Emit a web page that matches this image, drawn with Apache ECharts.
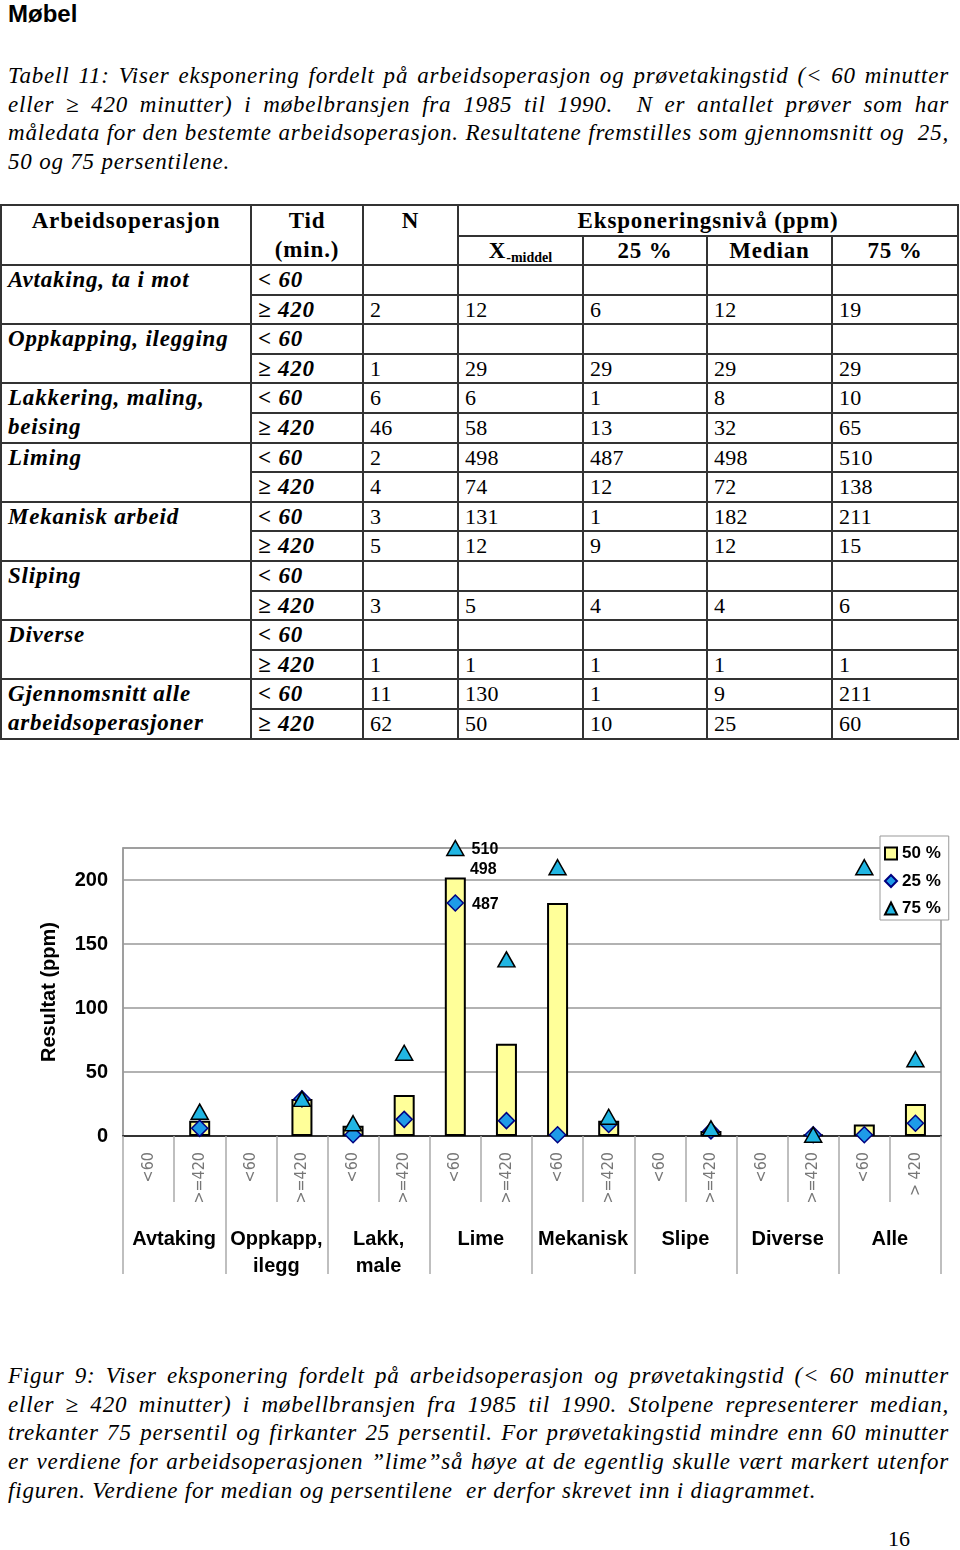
<!DOCTYPE html>
<html><head><meta charset="utf-8">
<script src="https://cdn.jsdelivr.net/npm/echarts/dist/echarts.min.js"></script>
<style>
html,body{margin:0;padding:0;background:#fff;width:960px;height:1550px;overflow:hidden;}
body{position:relative;}
.sans{font-family:'Liberation Sans',Arial,sans-serif;}
.serif{font-family:'Liberation Serif','Times New Roman',serif;}
#title{position:absolute;left:8px;top:2px;font-size:24px;line-height:24px;font-weight:bold;}
.para{position:absolute;left:8px;width:941px;font-style:italic;font-size:23px;letter-spacing:0.8px;line-height:28.7px;}
.para div{text-align:justify;text-align-last:justify;white-space:pre-wrap;}
.para div.last{text-align-last:left;}
#tbl{position:absolute;left:0;top:204px;width:957px;border-collapse:collapse;table-layout:fixed;font-family:'Liberation Serif','Times New Roman',serif;}
#tbl td,#tbl th{border:2px solid #333;padding:0 0 0 6px;font-size:22px;letter-spacing:0.3px;line-height:27.6px;height:27.6px;vertical-align:top;text-align:left;overflow:visible;white-space:nowrap;}
#tbl th{font-size:23px;letter-spacing:0.85px;font-weight:bold;text-align:center;padding:0;line-height:29px;height:29px;}
#tbl tr.h2 th{line-height:27px;height:27px;}
#tbl td.op,#tbl td.tid{font-weight:bold;font-style:italic;font-size:23px;letter-spacing:0.8px;}
#tbl td.op{line-height:28.6px;}
#tbl sub{font-size:14px;line-height:0;vertical-align:-4px;letter-spacing:0;}
#chart{position:absolute;left:0;top:790px;width:960px;height:500px;}
#pnum{position:absolute;left:888px;top:1527px;font-size:22px;line-height:24px;}
</style></head>
<body>
<div id="title" class="sans">Møbel</div>
<div class="para serif" style="top:62px">
<div>Tabell 11: Viser eksponering fordelt på arbeidsoperasjon og prøvetakingstid (&lt; 60 minutter</div>
<div>eller ≥ 420 minutter) i møbelbransjen fra 1985 til 1990.  N er antallet prøver som har</div>
<div>måledata for den bestemte arbeidsoperasjon. Resultatene fremstilles som gjennomsnitt og  25,</div>
<div class="last">50 og 75 persentilene.</div>
</div>
<table id="tbl"></table>
<div id="chart"></div>
<div class="para serif" style="top:1362px">
<div>Figur 9: Viser eksponering fordelt på arbeidsoperasjon og prøvetakingstid (&lt; 60 minutter</div>
<div>eller ≥ 420 minutter) i møbellbransjen fra 1985 til 1990. Stolpene representerer median,</div>
<div>trekanter 75 persentil og firkanter 25 persentil. For prøvetakingstid mindre enn 60 minutter</div>
<div>er verdiene for arbeidsoperasjonen ”lime”så høye at de egentlig skulle vært markert utenfor</div>
<div class="last">figuren. Verdiene for median og persentilene  er derfor skrevet inn i diagrammet.</div>
</div>
<div id="pnum" class="serif">16</div>
<script>
// ---- table data ----
const tableOps = ['Avtaking, ta i mot','Oppkapping, ilegging','Lakkering, maling,<br>beising','Liming','Mekanisk arbeid','Sliping','Diverse','Gjennomsnitt alle<br>arbeidsoperasjoner'];
const tableTid = ['< 60','≥ 420'];
const tableN      = ['', '2', '', '1', '6', '46', '2', '4', '3', '5', '', '3', '', '1', '11', '62'];
const tableMean   = ['', '12', '', '29', '6', '58', '498', '74', '131', '12', '', '5', '', '1', '130', '50'];
const table25     = ['', '6', '', '29', '1', '13', '487', '12', '1', '9', '', '4', '', '1', '1', '10'];
const tableMedian = ['', '12', '', '29', '8', '32', '498', '72', '182', '12', '', '4', '', '1', '9', '25'];
const table75     = ['', '19', '', '29', '10', '65', '510', '138', '211', '15', '', '6', '', '1', '211', '60'];

// ---- chart data ----
const categories = ['<60','>=420','<60','>=420','<60','>=420','<60','>=420','<60','>=420','<60','>=420','<60','>=420','<60','> 420'];
const groups = ['Avtaking','Oppkapp,\nilegg','Lakk,\nmale','Lime','Mekanisk','Slipe','Diverse','Alle'];
const median = [null, 12, null, 29, 8, 32, 202, 72, 182, 12, null, 4, null, 1, 9, 25];
const p25    = [null, 6, null, 29, 1, 13, 182, 12, 1, 9, null, 4, null, 1, 1, 10];
const p75    = [null, 19, null, 29, 10, 65, 225, 138, 210, 15, null, 6, null, 1, 210, 60];
const medianLabels = ['', '', '', '', '', '', '498', '', '', '', '', '', '', '', '', ''];
const p25Labels    = ['', '', '', '', '', '', '487', '', '', '', '', '', '', '', '', ''];
const p75Labels    = ['', '', '', '', '', '', '510', '', '', '', '', '', '', '', '', ''];
const yTicks = [0, 50, 100, 150, 200];

// build table
(function(){
  let h = '<colgroup><col style="width:250px"><col style="width:112px"><col style="width:95px"><col style="width:125px"><col style="width:124px"><col style="width:125px"><col style="width:126px"></colgroup>';
  h += '<tr><th rowspan="2">Arbeidsoperasjon</th><th rowspan="2">Tid<br>(min.)</th><th rowspan="2">N</th><th colspan="4">Eksponeringsnivå (ppm)</th></tr>';
  h += '<tr class="h2"><th>X<sub>-middel</sub></th><th>25 %</th><th>Median</th><th>75 %</th></tr>';
  for (let i = 0; i < 16; i++) {
    h += '<tr>';
    if (i % 2 === 0) h += '<td class="op" rowspan="2">' + tableOps[i/2] + '</td>';
    h += '<td class="tid">' + tableTid[i%2].replace('<','&lt;') + '</td>';
    h += '<td>' + tableN[i] + '</td><td>' + tableMean[i] + '</td><td>' + table25[i] + '</td><td>' + tableMedian[i] + '</td><td>' + table75[i] + '</td>';
    h += '</tr>';
  }
  document.getElementById('tbl').innerHTML = h;
})();

const SANS = "'Liberation Sans', Arial, sans-serif";
const NARROW = "'DejaVu Sans Condensed', 'Liberation Sans Narrow', sans-serif";
function withLabels(vals, labels, pos, extra) {
  return vals.map((v, i) => {
    if (v == null) return '-';
    if (labels[i]) return {value: v, label: Object.assign({show: true, formatter: labels[i], position: pos,
      fontFamily: SANS, fontWeight: 'bold', fontSize: 16, color: '#000'}, extra)};
    return v;
  });
}
const chart = echarts.init(document.getElementById('chart'));
chart.setOption({
  animation: false,
  backgroundColor: '#fff',
  grid: {left: 123, right: 19, top: 58, bottom: 154, show: true, borderColor: '#999', borderWidth: 1.5, backgroundColor: 'transparent'},
  legend: {
    orient: 'vertical', left: 880, top: 46, padding: [9, 8, 3, 4], itemGap: 10.5, itemWidth: 12, itemHeight: 12,
    backgroundColor: '#fff', borderColor: '#999', borderWidth: 1,
    textStyle: {fontFamily: SANS, fontWeight: 'bold', fontSize: 17, color: '#000'},
    data: [{name: '50 %', icon: 'rect'}, {name: '25 %'}, {name: '75 %'}]
  },
  xAxis: [{
    type: 'category', data: categories, position: 'bottom',
    axisLine: {show: true, lineStyle: {color: '#333', width: 2}},
    axisTick: {show: true, interval: 0, length: 66, lineStyle: {color: '#aaa', width: 1.5}},
    axisLabel: {interval: 0, rotate: 90, margin: 16, fontFamily: NARROW, fontSize: 16, color: '#777'},
    splitLine: {show: false}
  }, {
    type: 'category', data: groups, position: 'bottom', offset: 0,
    axisLine: {show: false},
    axisTick: {show: true, interval: 0, length: 138, lineStyle: {color: '#aaa', width: 1.5}},
    axisLabel: {interval: 0, margin: 90, fontFamily: SANS, fontWeight: 'bold', fontSize: 20, lineHeight: 27, color: '#000'},
    splitLine: {show: false}
  }],
  yAxis: {
    type: 'value', min: 0, max: 225, interval: 50,
    name: 'Resultat (ppm)', nameLocation: 'middle', nameGap: 64, nameRotate: 90,
    nameTextStyle: {fontFamily: SANS, fontWeight: 'bold', fontSize: 20, color: '#000'},
    axisLine: {show: true, lineStyle: {color: '#999', width: 1.5}},
    axisTick: {show: false},
    axisLabel: {margin: 15, fontFamily: SANS, fontWeight: 'bold', fontSize: 20, color: '#000', padding: [5, 0, 0, 0],
      formatter: v => yTicks.indexOf(v) >= 0 ? String(v) : ''},
    splitLine: {show: true, lineStyle: {color: '#999', width: 1.5}}
  },
  series: [{
    name: '50 %', type: 'bar', xAxisIndex: 0, barWidth: 21,
    itemStyle: {color: '#FFFF99', borderColor: '#000', borderWidth: 2},
    data: withLabels(median, medianLabels, 'top', {offset: [28, 5]}),
    z: 2
  }, {
    name: '25 %', type: 'scatter', xAxisIndex: 0, symbol: 'diamond', symbolSize: [16, 16],
    itemStyle: {color: '#1E9BE8', borderColor: '#000080', borderWidth: 1.5, opacity: 1},
    data: withLabels(p25, p25Labels, 'right', {distance: 8, offset: [0, 2]}),
    z: 3
  }, {
    name: '75 %', type: 'scatter', xAxisIndex: 0, symbol: 'triangle', symbolSize: [17, 15],
    itemStyle: {color: '#21B6E3', borderColor: '#000', borderWidth: 1.5, opacity: 1},
    data: withLabels(p75, p75Labels, 'right', {distance: 7, offset: [0, 2]}),
    z: 4, clip: false
  }]
});
</script>
</body></html>
